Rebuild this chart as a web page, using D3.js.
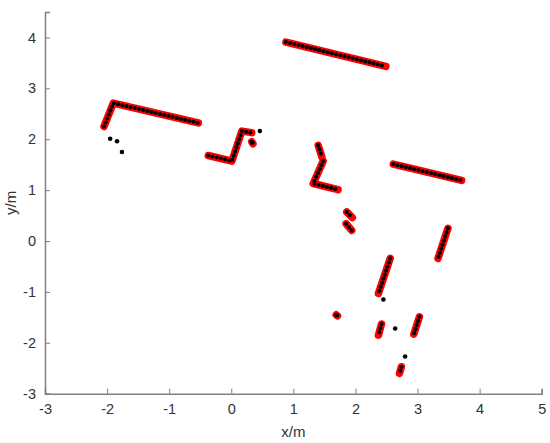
<!DOCTYPE html>
<html>
<head>
<meta charset="utf-8">
<script src="https://cdn.jsdelivr.net/npm/d3@7"></script>
<style>
  body { margin: 0; background: #fff; }
  text { font-family: "Liberation Sans", Arial, sans-serif; }
</style>
</head>
<body>
<div id="chart"></div>
<script>
// tick values
var xTicks = [-3, -2, -1, 0, 1, 2, 3, 4, 5];
var yTicks = [-3, -2, -1, 0, 1, 2, 3, 4];

// fitted wall segments (red), each one a polyline in metres
var segments = [
  [[0.88, 3.91], [2.49, 3.43]],
  [[-2.05, 2.25], [-1.90, 2.71], [-0.53, 2.32]],
  [[-0.37, 1.68], [0.01, 1.57], [0.17, 2.16], [0.33, 2.13]],
  [[0.33, 1.95], [0.35, 1.91]],
  [[1.40, 1.88], [1.46, 1.65]],
  [[1.48, 1.57], [1.32, 1.13], [1.72, 1.01]],
  [[1.86, 0.57], [1.95, 0.46]],
  [[1.85, 0.34], [1.94, 0.21]],
  [[2.61, 1.51], [3.71, 1.19]],
  [[3.49, 0.25], [3.33, -0.34]],
  [[2.56, -0.34], [2.37, -1.03]],
  [[1.69, -1.45], [1.71, -1.47]],
  [[2.42, -1.63], [2.37, -1.85]],
  [[3.03, -1.49], [2.94, -1.83]],
  [[2.74, -2.47], [2.71, -2.60]]
];

// stray scan points (black)
var strayX = [-1.95, -1.84, -1.76, 0.46, 0.34, 2.45, 1.70, 2.64, 2.80];
var strayY = [2.01, 1.96, 1.75, 2.16, 1.93, -1.15, -1.46, -1.72, -2.27];

var width = 550, height = 443;
var pLeft = 45, pRight = 541.7, pTop = 12, pBottom = 393.7;

var svg = d3.select("#chart")
  .append("svg")
    .attr("width", width)
    .attr("height", height);

var x = d3.scaleLinear().domain([-3, 5]).range([pLeft, pRight]);
var y = d3.scaleLinear().domain([-3, 4.5]).range([pBottom, pTop]);

var line = d3.line()
  .x(function(d) { return x(d[0]); })
  .y(function(d) { return y(d[1]); });

// red fitted lines
svg.append("g").selectAll("path")
  .data(segments)
  .enter().append("path")
    .attr("d", line)
    .attr("fill", "none")
    .attr("stroke", "#ff0000")
    .attr("stroke-width", 7.5)
    .attr("stroke-linecap", "round")
    .attr("stroke-linejoin", "round");

// scan points along the walls
svg.append("g").selectAll("path")
  .data(segments)
  .enter().append("path")
    .attr("d", line)
    .attr("fill", "none")
    .attr("stroke", "#000")
    .attr("stroke-width", 4.2)
    .attr("stroke-linecap", "round")
    .attr("stroke-dasharray", "0,4.3");

// stray points
svg.append("g").selectAll("circle")
  .data(strayX)
  .enter().append("circle")
    .attr("cx", function(d) { return x(d); })
    .attr("cy", function(d, i) { return y(strayY[i]); })
    .attr("r", 2.3)
    .attr("fill", "#000");

// axes, ticks pointing inward like matlab
var fmt = function(d) { return String(d); };
var xAxis = svg.append("g")
  .attr("transform", "translate(0," + pBottom + ")")
  .call(d3.axisBottom(x).tickValues(xTicks).tickFormat(fmt).tickSize(-5).tickPadding(10));
var yAxis = svg.append("g")
  .attr("transform", "translate(" + pLeft + ",0)")
  .call(d3.axisLeft(y).tickValues(yTicks).tickFormat(fmt).tickSize(-5).tickPadding(9));

[xAxis, yAxis].forEach(function(a) {
  a.select(".domain").attr("stroke", "#808080").attr("stroke-width", 1.5);
  a.selectAll(".tick line").attr("stroke", "#808080").attr("stroke-width", 1);
  a.selectAll(".tick text")
    .attr("fill", "#333")
    .style("font-size", "14.5px")
    .style("font-family", "'Liberation Sans', Arial, sans-serif");
});

svg.append("text")
  .attr("x", (pLeft + pRight) / 2)
  .attr("y", 437)
  .attr("text-anchor", "middle")
  .attr("fill", "#333")
  .style("font-size", "15px")
  .text("x/m");

svg.append("text")
  .attr("transform", "translate(16," + (pTop + pBottom) / 2 + ") rotate(-90)")
  .attr("text-anchor", "middle")
  .attr("fill", "#333")
  .style("font-size", "15px")
  .text("y/m");
</script>
</body>
</html>
